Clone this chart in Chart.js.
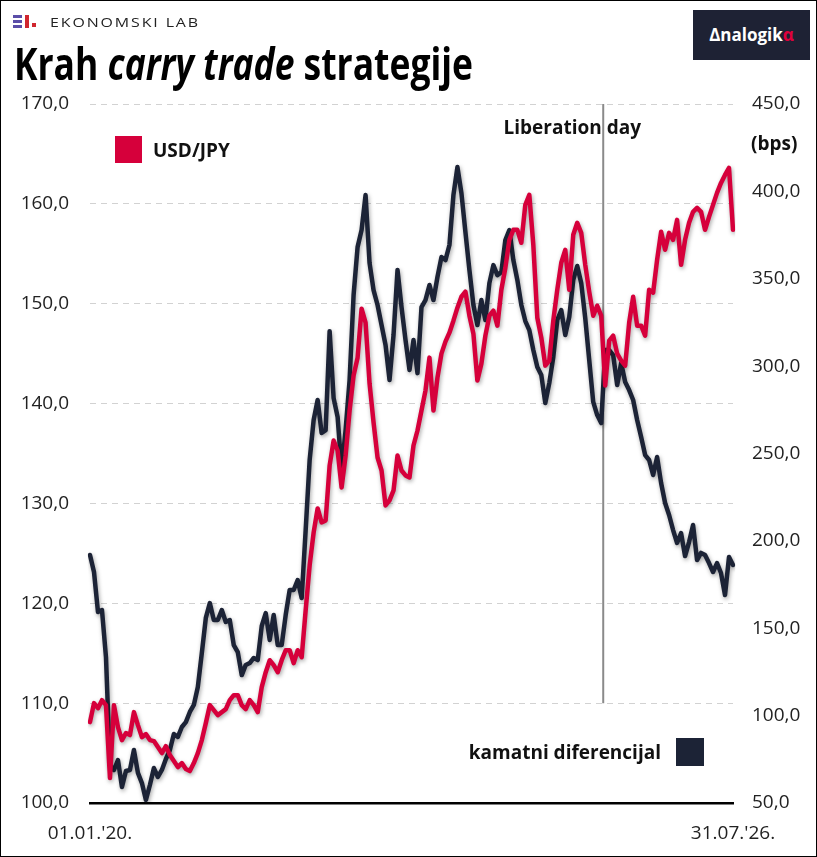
<!DOCTYPE html>
<html>
<head>
<meta charset="utf-8">
<script src="https://cdn.jsdelivr.net/npm/chart.js@4.4.1/dist/chart.umd.min.js"></script>
<style>
html,body{margin:0;padding:0;background:#fff;}
#wrap{position:relative;width:817px;height:857px;overflow:hidden;font-family:"Open Sans",sans-serif;color:#111;}
#frame{position:absolute;left:0;top:0;width:817px;height:857px;box-sizing:border-box;border:1px solid #000;pointer-events:none;z-index:5;}
#chart{position:absolute;left:0;top:0;}
.abs{position:absolute;white-space:nowrap;}
#brand{left:50px;top:12px;font-size:13.5px;letter-spacing:1.6px;line-height:20px;color:#222;}
.ebar{position:absolute;left:13px;width:9px;height:2.5px;background:#5b4ea8;}
#title{left:14px;top:41px;font-size:44px;line-height:44px;font-weight:700;color:#000;transform-origin:0 0;}
#logo{left:693px;top:10px;width:117px;height:50px;background:#1e2234;color:#fff;font-weight:700;font-size:17px;line-height:50px;text-align:center;}
#logo span{color:#e0003c;}
.legtxt{font-weight:700;font-size:19px;line-height:26px;color:#111;}
.sq{position:absolute;}
</style>
</head>
<body>
<div id="wrap">
  <canvas id="chart" width="817" height="857"></canvas>
  <div class="ebar" style="top:15px"></div>
  <div class="ebar" style="top:20px"></div>
  <div class="ebar" style="top:25px"></div>
  <div class="sq" style="left:25px;top:15px;width:4px;height:12.5px;background:#d0262f"></div>
  <div class="sq" style="left:32px;top:23px;width:4px;height:4px;background:#d0262f"></div>
  <div id="brand" class="abs">EKONOMSKI LAB</div>
  <div id="title" class="abs">Krah <i>carry trade</i> strategije</div>
  <div id="logo" class="abs">&Delta;nalogik<span>&alpha;</span></div>
  <div class="sq" style="left:115px;top:136px;width:27px;height:27px;background:#d6003b"></div>
  <div class="abs legtxt" style="left:153px;top:137px">USD/JPY</div>
  <div class="sq" style="left:676px;top:738px;width:28px;height:28px;background:#1c2336"></div>
  <div class="abs legtxt" style="right:156px;top:739px">kamatni diferencijal</div>
  <div class="abs legtxt" style="left:751px;top:130px">(bps)</div>
  <div id="frame"></div>
</div>
<script>
// raspon podataka
const startDate = '2020-01-01';
const endDate = '2026-07-31';
const startLabel = "01.01.'20.";
const endLabel = "31.07.'26.";
const eventDate = '2025-04-02';
const eventName = 'Liberation day';

// USD/JPY (lijeva os)
const usdJpy = [108.1,110.0,109.5,110.3,109.8,102.5,109.8,107.6,106.3,107.0,
  106.8,109.1,107.8,106.6,106.9,106.3,106.2,105.6,105.0,105.7,
  104.8,104.2,103.6,104.0,103.4,103.2,104.0,105.0,106.3,108.0,
  109.8,109.3,108.8,109.1,109.4,110.3,110.8,110.8,109.8,109.4,
  110.3,109.8,109.1,111.6,113.1,114.3,113.8,113.1,114.3,115.3,
  115.3,114.0,115.3,114.6,119.3,123.8,127.1,129.5,128.1,128.3,
  133.8,136.3,135.3,131.6,134.8,139.3,142.8,144.6,149.5,148.1,
  142.0,138.1,134.6,133.3,129.8,130.3,131.3,134.8,133.3,132.8,
  132.6,135.8,137.3,139.3,141.3,144.6,139.3,142.6,145.0,146.2,
  147.1,148.3,149.6,150.7,151.2,148.8,147.0,142.3,144.0,146.8,
  148.8,149.3,147.8,151.4,153.6,156.4,157.4,157.4,156.1,159.9,
  160.9,155.9,148.6,146.6,143.8,144.3,148.3,151.4,154.1,155.4,
  151.4,156.9,158.1,157.1,153.9,151.2,148.8,149.8,148.8,141.8,
  146.3,146.8,145.0,144.3,143.8,148.1,150.7,147.8,147.8,146.8,
  151.4,151.1,154.4,157.2,155.4,157.1,156.4,158.4,153.9,156.4,
  158.1,159.2,159.6,159.2,157.4,158.7,159.9,161.1,162.1,162.9,
  163.6,157.4];

// kamatni diferencijal u bps (desna os)
const diffBps = [191.9,182.2,159.3,160.4,133.5,71.7,68.9,74.6,59.2,68.3,
  68.9,80.3,67.2,61.4,51.7,60.3,70.0,64.9,68.9,75.2,
  80.3,89.5,87.8,93.5,96.3,102.1,106.1,116.4,135.8,155.9,
  164.4,154.7,154.7,160.4,153.6,154.7,140.4,136.4,123.2,129.0,
  130.1,133.0,131.8,151.3,158.7,143.3,157.6,140.4,140.4,157.6,
  171.9,171.9,177.6,167.3,206.2,246.3,269.2,280.6,261.7,263.4,
  320.0,281.7,270.9,240.5,263.4,292.0,340.7,368.1,377.9,397.9,
  359.0,343.5,335.0,323.5,312.1,292.0,317.8,355.0,333.8,314.9,
  297.8,314.9,296.0,333.8,337.8,346.4,337.8,351.0,362.4,360.7,
  369.3,397.9,413.9,399.0,376.7,355.0,335.0,323.5,337.8,326.4,
  347.5,357.8,352.1,353.8,372.1,377.9,360.7,349.3,335.0,325.8,
  320.6,309.2,299.5,294.9,278.9,290.3,305.2,326.4,332.1,317.8,
  328.1,349.3,357.3,347.5,327.5,303.5,279.5,272.0,267.4,309.2,
  309.2,306.3,289.2,301.8,290.9,286.3,280.6,269.2,259.4,249.1,
  246.3,237.7,248.0,233.1,221.7,214.8,206.2,198.8,204.5,191.3,
  199.3,209.1,189.0,193.1,191.9,187.3,182.2,187.3,181.6,169.0,
  190.8,186.2];

const RED = '#d6003b';
const NAVY = '#1c2336';

// datumi za svaku tocku
const DAY = 86400000;
const t0 = Date.parse(startDate), t1 = Date.parse(endDate);
const step = (t1 - t0) / (usdJpy.length - 1);
const labels = usdJpy.map((_, i) => {
  const d = new Date(t0 + i * step);
  return d.toISOString().slice(0, 10);
});
const eventIndex = (Date.parse(eventDate) - t0) / step;
const last = labels.length - 1;

const fmt = v => v.toFixed(1).replace('.', ',');

// sjena ispod linija
const shadow = {
  id: 'shadow',
  beforeDatasetDraw(chart) {
    const c = chart.ctx;
    c.save();
    c.shadowColor = 'rgba(0,0,0,0.35)';
    c.shadowBlur = 4;
    c.shadowOffsetX = 1;
    c.shadowOffsetY = 2;
  },
  afterDatasetDraw(chart) { chart.ctx.restore(); }
};

// okomita linija za Liberation day
const eventLine = {
  id: 'eventLine',
  beforeDatasetsDraw(chart) {
    const c = chart.ctx, x = chart.scales.x.getPixelForValue(eventIndex);
    const y = chart.scales.y;
    c.save();
    c.strokeStyle = '#8a8a8a';
    c.lineWidth = 2;
    c.beginPath();
    c.moveTo(x, y.getPixelForValue(170));
    c.lineTo(x, y.getPixelForValue(110));
    c.stroke();
    c.restore();
  },
  afterDatasetsDraw(chart) {
    const c = chart.ctx, x = chart.scales.x.getPixelForValue(eventIndex);
    c.save();
    c.font = '700 19px "Open Sans"';
    c.fillStyle = '#111';
    c.textAlign = 'center';
    c.textBaseline = 'middle';
    c.fillText(eventName, x - 31, 129);
    c.restore();
  }
};

new Chart(document.getElementById('chart'), {
  type: 'line',
  data: {
    labels: labels,
    datasets: [
      { label: 'USD/JPY', data: usdJpy, yAxisID: 'y', borderColor: RED, borderWidth: 4.5,
        pointRadius: 0, tension: 0, borderJoinStyle: 'round', borderCapStyle: 'round' },
      { label: 'kamatni diferencijal', data: diffBps, yAxisID: 'y2', borderColor: NAVY, borderWidth: 4.5,
        pointRadius: 0, tension: 0, borderJoinStyle: 'round', borderCapStyle: 'round' }
    ]
  },
  options: {
    responsive: false,
    animation: false,
    layout: { padding: { top: 104, left: 0, right: 0, bottom: 0 } },
    plugins: { legend: { display: false }, tooltip: { enabled: false } },
    scales: {
      x: {
        grid: { display: false, drawTicks: false },
        border: { display: true, color: '#000', width: 2.5 },
        ticks: {
          autoSkip: false, maxRotation: 0, minRotation: 0, padding: 19,
          color: '#222', font: { family: 'Open Sans', size: 19 },
          callback: (v, i) => i === 0 ? startLabel : (i === last ? endLabel : null)
        },
        afterFit: s => { s.height = 54; }
      },
      y: {
        position: 'left', min: 100, max: 170,
        grid: { color: '#d2d2d2', lineWidth: 1, drawTicks: false },
        border: { display: false, dash: [6, 5] },
        ticks: { stepSize: 10, padding: 21, color: '#222', font: { family: 'Open Sans', size: 19 }, callback: fmt },
        afterFit: s => { s.width = 90; }
      },
      y2: {
        position: 'right', min: 50, max: 450,
        grid: { display: false, drawTicks: false },
        border: { display: false },
        ticks: { stepSize: 50, padding: 19, color: '#222', font: { family: 'Open Sans', size: 19 }, callback: fmt },
        afterFit: s => { s.width = 84; }
      }
    }
  },
  plugins: [shadow, eventLine]
});

// naslov stisnut na sirinu originala
const title = document.getElementById('title');
const w = title.getBoundingClientRect().width;
title.style.transform = 'scaleX(' + (459 / w) + ')';
const brand = document.getElementById('brand');
const bw = brand.getBoundingClientRect().width;
brand.style.transform = 'scaleX(' + (150 / bw) + ')';
brand.style.transformOrigin = '0 0';
</script>
</body>
</html>
